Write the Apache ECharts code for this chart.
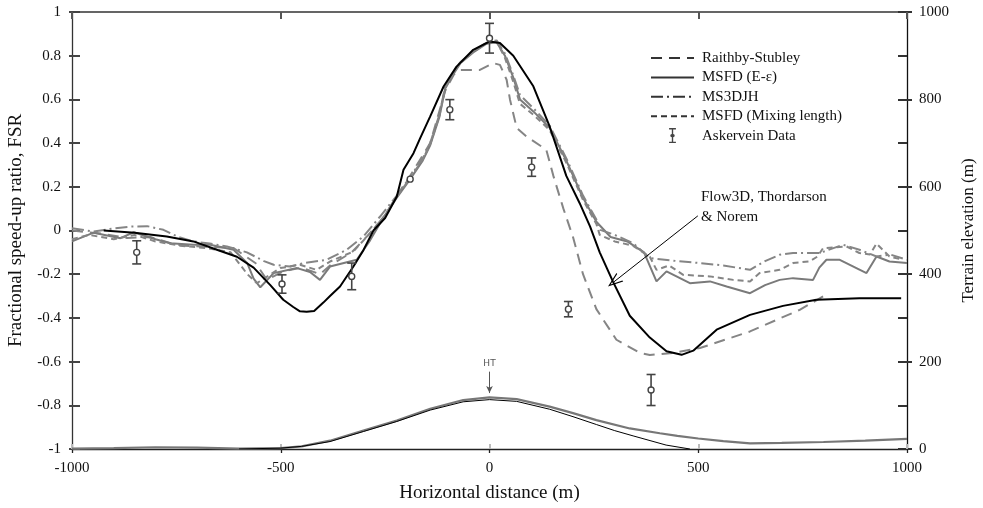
<!DOCTYPE html>
<html>
<head>
<meta charset="utf-8">
<script src="https://cdn.jsdelivr.net/npm/echarts@6/dist/echarts.min.js"></script>
<style>
  html, body { margin: 0; padding: 0; background: #fff; }
  #chart { width: 983px; height: 508px; }
</style>
</head>
<body>
<div id="chart"></div>
<script>
// Fractional speed-up ratio (FSR) along line A, Askervein hill, with terrain profile.

// Model results: [horizontal distance (m), FSR]
const raithbyStubley = [
  [-1000,0.0],[-927,-0.015],[-868,-0.034],[-813,-0.03],[-760,-0.06],[-733,-0.07],[-613,-0.08],
  [-560,-0.15],[-533,-0.226],[-494,-0.187],[-450,-0.17],[-406,-0.2],[-382,-0.16],[-330,-0.1],
  [-290,-0.02],[-250,0.07],[-222,0.16],[-190,0.25],[-142,0.40],[-106,0.64],[-85,0.715],[-70,0.735],
  [-23,0.735],[9,0.766],[25,0.758],[41,0.69],[49,0.6],[65,0.47],[89,0.43],[136,0.37],[153,0.25],
  [177,0.10],[200,-0.03],[224,-0.2],[256,-0.36],[304,-0.5],[360,-0.56],[384,-0.57],[440,-0.56],
  [504,-0.538],[624,-0.462],[743,-0.363],[799,-0.302]
];
const msfdEEps = [
  [-1000,-0.05],[-948,-0.01],[-884,-0.035],[-852,-0.008],[-800,-0.04],[-765,-0.058],[-709,-0.065],
  [-669,-0.065],[-613,-0.088],[-580,-0.15],[-565,-0.22],[-549,-0.26],[-517,-0.195],[-461,-0.172],
  [-430,-0.19],[-406,-0.226],[-382,-0.165],[-318,-0.134],[-286,-0.045],[-254,0.06],[-222,0.15],
  [-190,0.235],[-160,0.32],[-142,0.39],[-120,0.52],[-106,0.65],[-85,0.72],[-70,0.765],[-39,0.815],
  [-7,0.855],[17,0.862],[37,0.80],[57,0.70],[73,0.60],[105,0.545],[144,0.47],[184,0.32],[224,0.15],
  [256,0.04],[290,-0.03],[330,-0.05],[370,-0.1],[400,-0.233],[424,-0.187],[480,-0.241],[528,-0.233],
  [568,-0.256],[624,-0.287],[660,-0.25],[695,-0.226],[727,-0.218],[775,-0.226],[790,-0.17],
  [807,-0.134],[839,-0.134],[903,-0.195],[927,-0.119],[958,-0.142],[1000,-0.149]
];
const ms3djh = [
  [-1000,0.01],[-948,-0.005],[-900,0.01],[-860,0.018],[-820,0.02],[-781,0.003],[-745,-0.03],
  [-709,-0.05],[-670,-0.06],[-629,-0.073],[-581,-0.1],[-540,-0.14],[-517,-0.157],[-478,-0.165],
  [-446,-0.149],[-390,-0.134],[-342,-0.088],[-302,-0.027],[-262,0.064],[-222,0.16],[-190,0.245],
  [-160,0.33],[-142,0.40],[-120,0.53],[-106,0.66],[-85,0.73],[-70,0.77],[-39,0.82],[-7,0.86],
  [17,0.87],[37,0.81],[57,0.71],[73,0.62],[105,0.56],[144,0.48],[184,0.33],[224,0.16],[256,0.05],
  [265,0.003],[300,-0.02],[344,-0.058],[384,-0.126],[450,-0.14],[504,-0.149],[560,-0.16],
  [624,-0.18],[660,-0.14],[695,-0.111],[727,-0.103],[791,-0.103],[847,-0.065],[886,-0.088],
  [927,-0.119],[960,-0.11],[1000,-0.134]
];
const msfdMixing = [
  [-1000,-0.04],[-960,-0.02],[-900,-0.04],[-850,-0.02],[-800,-0.05],[-740,-0.07],[-680,-0.08],
  [-620,-0.1],[-580,-0.2],[-557,-0.241],[-501,-0.172],[-454,-0.157],[-414,-0.18],[-382,-0.142],
  [-326,-0.096],[-286,-0.012],[-250,0.07],[-222,0.155],[-190,0.24],[-160,0.325],[-142,0.395],
  [-120,0.525],[-106,0.655],[-85,0.725],[-70,0.768],[-39,0.818],[-7,0.858],[17,0.866],[37,0.79],
  [57,0.68],[73,0.58],[105,0.53],[144,0.46],[184,0.31],[224,0.14],[256,0.03],[264,-0.02],
  [300,-0.05],[344,-0.07],[384,-0.12],[400,-0.18],[430,-0.16],[464,-0.203],[528,-0.21],
  [584,-0.226],[624,-0.233],[647,-0.195],[695,-0.18],[727,-0.149],[767,-0.141],[785,-0.12],
  [799,-0.081],[855,-0.073],[886,-0.103],[911,-0.11],[927,-0.06],[958,-0.119],[990,-0.134]
];
const flow3d = [
  [-924,0],[-850,-0.01],[-773,-0.027],[-709,-0.05],[-653,-0.088],[-605,-0.12],[-565,-0.17],
  [-525,-0.25],[-494,-0.317],[-470,-0.35],[-454,-0.37],[-438,-0.372],[-420,-0.368],[-398,-0.33],
  [-382,-0.30],[-358,-0.256],[-326,-0.165],[-302,-0.09],[-278,0.0],[-250,0.057],[-222,0.156],
  [-206,0.278],[-182,0.354],[-166,0.423],[-142,0.522],[-110,0.659],[-79,0.75],[-39,0.827],
  [0,0.865],[25,0.858],[57,0.80],[105,0.66],[144,0.476],[184,0.25],[216,0.125],[241,0.018],
  [264,-0.10],[296,-0.235],[336,-0.39],[384,-0.49],[424,-0.553],[460,-0.569],[488,-0.55],
  [544,-0.454],[624,-0.386],[703,-0.345],[783,-0.317],[886,-0.31],[986,-0.31]
];

// Askervein field data: distance, FSR, half-width of the error bar
const askX   = [-845, -497, -330, -190, -95, 0, 101, 189, 387];
const askY   = [-0.10, -0.245, -0.21, 0.235, 0.553, 0.88, 0.29, -0.36, -0.73];
const askErr = [0.053, 0.042, 0.061, 0, 0.046, 0.068, 0.042, 0.035, 0.071];

// Terrain elevation (m): measured profile and model hill shape
const terrainMeasured = [
  [-1000,1],[-900,2],[-800,4],[-700,3],[-600,1],[-500,2],[-450,6],[-382,19],[-302,42],[-222,65],
  [-142,92],[-63,112],[0,118],[65,114],[144,97],[200,82],[256,66],[336,47],[408,36],[450,30],
  [500,24],[560,18],[624,13],[700,14],[800,16],[900,19],[1000,23]
];
const terrainModel = [
  [-600,0],[-500,2],[-450,6],[-382,17],[-302,40],[-222,63],[-142,89],[-63,108],[0,113],[65,109],
  [144,91],[200,74],[256,56],[300,42],[344,30],[423,9],[480,0]
];

const xTicks = { min: -1000, max: 1000, interval: 500 };
const leftTicks = { min: -1, max: 1, interval: 0.2 };
const rightTicks = { min: 0, max: 1000, interval: 100 };

const SERIF = 'Liberation Serif, Times New Roman, serif';
const GRAY = '#858585';

const errorBars = askX.map((x, i) => [x, askY[i], askY[i] - askErr[i], askY[i] + askErr[i]]);

const legendLine = { color: '#333', width: 2 };
const noSymbol = { color: 'rgba(0,0,0,0)', borderWidth: 0, opacity: 0 };

const chart = echarts.init(document.getElementById('chart'), null, { renderer: 'canvas' });

chart.setOption({
  backgroundColor: '#fff',
  animation: false,
  textStyle: { fontFamily: SERIF },
  grid: { left: 72, right: 76, top: 12, bottom: 59, containLabel: false, outerBoundsMode: 'none' },
  legend: {
    orient: 'vertical',
    left: 645,
    top: 45.5,
    itemWidth: 43,
    itemHeight: 15,
    itemGap: 4.4,
    selectedMode: false,
    textStyle: { fontFamily: SERIF, fontSize: 15, color: '#111', padding: [0, 0, 0, 3] },
    data: [
      { name: 'Raithby-Stubley', lineStyle: legendLine, itemStyle: noSymbol },
      { name: 'MSFD (E-\u03b5)', lineStyle: legendLine, itemStyle: noSymbol },
      { name: 'MS3DJH', lineStyle: legendLine, itemStyle: noSymbol },
      { name: 'MSFD (Mixing length)', lineStyle: legendLine, itemStyle: noSymbol },
      { name: 'Askervein Data',
        icon: 'path://M0,0h8v1.6h-3.2v5.4a1.8,1.8 0 0 1 0,3.6v5.4h3.2v1.6h-8v-1.6h3.2v-5.4a1.8,1.8 0 0 1 0,-3.6v-5.4h-3.2z',
        itemStyle: { color: '#444' } }
    ]
  },
  xAxis: [
    {
      type: 'value', position: 'bottom', min: xTicks.min, max: xTicks.max, interval: xTicks.interval,
      name: 'Horizontal distance (m)', nameLocation: 'middle', nameGap: 35,
      nameTextStyle: { fontFamily: SERIF, fontSize: 19, color: '#111' },
      axisLine: { onZero: false, lineStyle: { color: '#222', width: 1.3 } },
      axisTick: { inside: false, length: 4, lineStyle: { color: '#222', width: 1.3 } },
      axisLabel: { fontFamily: SERIF, fontSize: 15, color: '#111', margin: 12, formatter: v => String(v) },
      splitLine: { show: false }
    },
    {
      type: 'value', position: 'top', min: xTicks.min, max: xTicks.max, interval: xTicks.interval,
      axisLine: { onZero: false, lineStyle: { color: '#333', width: 1.5 } },
      axisTick: { inside: true, length: 7, lineStyle: { color: '#555', width: 2 } },
      axisLabel: { show: false }, splitLine: { show: false }
    },
    {
      type: 'value', position: 'bottom', min: xTicks.min, max: xTicks.max, interval: xTicks.interval,
      axisLine: { show: false, onZero: false },
      axisTick: { inside: true, length: 5, lineStyle: { color: '#bbb', width: 2 } },
      axisLabel: { show: false }, splitLine: { show: false }
    }
  ],
  yAxis: [
    {
      type: 'value', position: 'left', min: leftTicks.min, max: leftTicks.max, interval: leftTicks.interval,
      name: 'Fractional speed-up ratio, FSR', nameLocation: 'middle', nameGap: 46,
      nameTextStyle: { fontFamily: SERIF, fontSize: 19, color: '#111' },
      axisLine: { show: true, onZero: false, lineStyle: { color: '#333', width: 1.3 } },
      axisTick: { show: true, inside: true, length: 8, lineStyle: { color: '#444', width: 2 } },
      axisLabel: { fontFamily: SERIF, fontSize: 15, color: '#111', margin: 11,
        formatter: v => String(Math.round(v * 10) / 10) },
      splitLine: { show: false }
    },
    {
      type: 'value', position: 'right', min: rightTicks.min, max: rightTicks.max, interval: rightTicks.interval,
      name: 'Terrain elevation (m)', nameLocation: 'middle', nameGap: 49,
      nameTextStyle: { fontFamily: SERIF, fontSize: 17, color: '#111' },
      axisLine: { show: true, onZero: false, lineStyle: { color: '#111', width: 1.3 } },
      axisTick: { show: true, inside: true, length: 9, lineStyle: { color: '#333', width: 2 } },
      axisLabel: { fontFamily: SERIF, fontSize: 15, color: '#111', margin: 12,
        formatter: v => (Math.round(v) % 200 === 0 ? String(Math.round(v)) : '') },
      splitLine: { show: false }
    },
    {
      type: 'value', position: 'left', min: leftTicks.min, max: leftTicks.max, interval: leftTicks.interval,
      axisLine: { show: false, onZero: false },
      axisTick: { show: true, inside: false, length: 3, lineStyle: { color: '#444', width: 2 } },
      axisLabel: { show: false }, splitLine: { show: false }
    },
    {
      type: 'value', position: 'right', min: rightTicks.min, max: rightTicks.max, interval: 200,
      axisLine: { show: false, onZero: false },
      axisTick: { show: true, inside: false, length: 5, lineStyle: { color: '#333', width: 2 } },
      axisLabel: { show: false }, splitLine: { show: false }
    }
  ],
  graphic: [
    {
      type: 'text', left: 701, top: 187,
      style: { text: 'Flow3D, Thordarson\n& Norem', font: '15px Liberation Serif', lineHeight: 20, fill: '#111' }
    }
  ],
  series: [
    {
      name: 'Raithby-Stubley', type: 'line', symbol: 'none', data: raithbyStubley,
      lineStyle: { color: GRAY, width: 2, type: [11, 7] }, itemStyle: { color: GRAY }, z: 2
    },
    {
      name: 'MSFD (E-\u03b5)', type: 'line', symbol: 'none', data: msfdEEps,
      lineStyle: { color: '#7a7a7a', width: 2 }, itemStyle: { color: '#7a7a7a' }, z: 2
    },
    {
      name: 'MS3DJH', type: 'line', symbol: 'none', data: ms3djh,
      lineStyle: { color: GRAY, width: 2, type: [12, 4, 2, 4] }, itemStyle: { color: GRAY }, z: 2
    },
    {
      name: 'MSFD (Mixing length)', type: 'line', symbol: 'none', data: msfdMixing,
      lineStyle: { color: GRAY, width: 2, type: [6, 4] }, itemStyle: { color: GRAY }, z: 2
    },
    {
      name: 'Flow3D', type: 'line', symbol: 'none', data: flow3d,
      lineStyle: { color: '#000', width: 2 }, itemStyle: { color: '#000' }, z: 4,
      markLine: {
        silent: true, animation: false,
        symbol: ['none', 'path://M0,14 L6,0 L12,14 L10.6,14 L6,3 L1.4,14 Z'],
        symbolSize: [11, 15],
        lineStyle: { color: '#000', width: 1, type: 'solid' },
        label: { show: false },
        data: [[{ coord: [499, 0.067] }, { coord: [298, -0.235] }]]
      }
    },
    {
      name: 'Askervein Data', type: 'custom', data: errorBars, z: 5,
      itemStyle: { color: '#444' },
      encode: { x: 0, y: 1 },
      renderItem: function (params, api) {
        const x = api.value(0), y = api.value(1), lo = api.value(2), hi = api.value(3);
        const c = api.coord([x, y]);
        const pLo = api.coord([x, lo]);
        const pHi = api.coord([x, hi]);
        const r = 3, cap = 4.5;
        const st = { stroke: '#444', lineWidth: 1.6, fill: null };
        const children = [
          { type: 'circle', shape: { cx: c[0], cy: c[1], r: r }, style: { stroke: '#444', lineWidth: 1.4, fill: '#fff' } }
        ];
        if (pLo[1] - pHi[1] > 2) {
          children.push(
            { type: 'line', shape: { x1: c[0], y1: pHi[1], x2: c[0], y2: c[1] - r }, style: st },
            { type: 'line', shape: { x1: c[0], y1: c[1] + r, x2: c[0], y2: pLo[1] }, style: st },
            { type: 'line', shape: { x1: c[0] - cap, y1: pHi[1], x2: c[0] + cap, y2: pHi[1] }, style: st },
            { type: 'line', shape: { x1: c[0] - cap, y1: pLo[1], x2: c[0] + cap, y2: pLo[1] }, style: st }
          );
        }
        return { type: 'group', children: children };
      }
    },
    {
      name: 'Terrain (measured)', type: 'line', symbol: 'none', yAxisIndex: 1, data: terrainMeasured,
      lineStyle: { color: '#777', width: 2.2 }, itemStyle: { color: '#777' }, z: 3,
      markLine: {
        silent: true, animation: false,
        symbol: ['none', 'arrow'], symbolSize: [5, 7],
        lineStyle: { color: '#555', width: 1, type: 'solid' },
        label: { show: true, position: 'start', formatter: 'HT', distance: 3,
          fontFamily: 'DejaVu Sans, sans-serif', fontSize: 9, color: '#555' },
        data: [[{ coord: [0, 177] }, { coord: [0, 128] }]]
      }
    },
    {
      name: 'Terrain (model)', type: 'line', symbol: 'none', yAxisIndex: 1, data: terrainModel,
      lineStyle: { color: '#000', width: 1 }, itemStyle: { color: '#000' }, z: 3
    }
  ]
});
</script>
</body>
</html>
